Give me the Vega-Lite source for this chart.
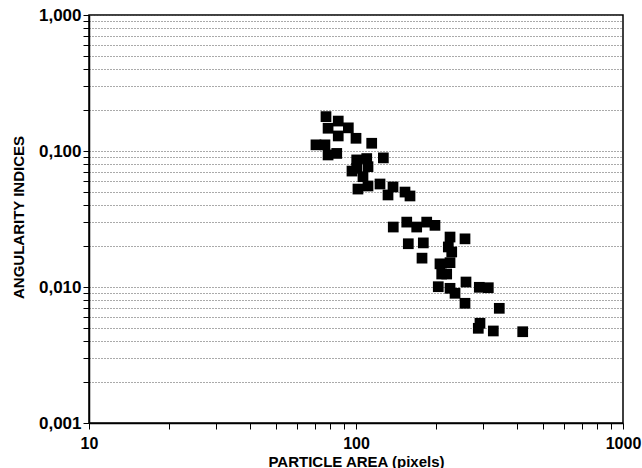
{
  "$schema": "https://vega.github.io/schema/vega-lite/v6.json",
  "width": 534,
  "height": 408,
  "autosize": "none",
  "padding": {"left": 89, "top": 15, "right": 19, "bottom": 45},
  "background": "white",
  "config": {
    "view": {"stroke": "black", "strokeWidth": 1.5},
    "font": "Liberation Sans"
  },
  "data": {
    "values": [
      {"area": 77.2, "angularity": 0.179},
      {"area": 85.8, "angularity": 0.166},
      {"area": 78.6, "angularity": 0.147},
      {"area": 93.6, "angularity": 0.148},
      {"area": 85.8, "angularity": 0.129},
      {"area": 100, "angularity": 0.124},
      {"area": 70.8, "angularity": 0.111},
      {"area": 76.5, "angularity": 0.111},
      {"area": 114.5, "angularity": 0.114},
      {"area": 84.7, "angularity": 0.096},
      {"area": 78.6, "angularity": 0.0935},
      {"area": 100.6, "angularity": 0.086},
      {"area": 109.7, "angularity": 0.088},
      {"area": 126.6, "angularity": 0.089},
      {"area": 100.6, "angularity": 0.0746},
      {"area": 110.9, "angularity": 0.0767},
      {"area": 96.6, "angularity": 0.0712},
      {"area": 106.2, "angularity": 0.0647},
      {"area": 101.7, "angularity": 0.0525},
      {"area": 110.9, "angularity": 0.0553},
      {"area": 123.0, "angularity": 0.0572},
      {"area": 137.6, "angularity": 0.0544},
      {"area": 152.6, "angularity": 0.0499},
      {"area": 159.3, "angularity": 0.0467},
      {"area": 131.8, "angularity": 0.0475},
      {"area": 137.9, "angularity": 0.0276},
      {"area": 154.9, "angularity": 0.0300},
      {"area": 168.8, "angularity": 0.0276},
      {"area": 184.0, "angularity": 0.0300},
      {"area": 197.6, "angularity": 0.0284},
      {"area": 225.0, "angularity": 0.0233},
      {"area": 157.0, "angularity": 0.0208},
      {"area": 178.7, "angularity": 0.0211},
      {"area": 221.7, "angularity": 0.0197},
      {"area": 228.3, "angularity": 0.0181},
      {"area": 256.0, "angularity": 0.0226},
      {"area": 176.7, "angularity": 0.0163},
      {"area": 206.3, "angularity": 0.0148},
      {"area": 225.0, "angularity": 0.0151},
      {"area": 209.4, "angularity": 0.01246},
      {"area": 218.6, "angularity": 0.01246},
      {"area": 258.2, "angularity": 0.01088},
      {"area": 203.3, "angularity": 0.01005},
      {"area": 225.0, "angularity": 0.00978},
      {"area": 234.9, "angularity": 0.00899},
      {"area": 289.6, "angularity": 0.00995},
      {"area": 313.0, "angularity": 0.00988},
      {"area": 256.0, "angularity": 0.00759},
      {"area": 344.1, "angularity": 0.00697},
      {"area": 291.3, "angularity": 0.00541},
      {"area": 287.1, "angularity": 0.00497},
      {"area": 326.8, "angularity": 0.00475},
      {"area": 421.1, "angularity": 0.00469}
    ]
  },
  "mark": {"type": "point", "shape": "square", "filled": true, "size": 115, "color": "black", "opacity": 1},
  "encoding": {
    "x": {
      "field": "area",
      "type": "quantitative",
      "scale": {"type": "log", "domain": [10, 1000], "nice": false},
      "axis": {
        "title": "PARTICLE AREA (pixels)",
        "titleFont": "Liberation Sans",
        "titleFontSize": 15,
        "titleFontWeight": "bold",
        "titleColor": "black",
        "titleX": 267,
        "titleY": 43,
        "titleBaseline": "alphabetic",
        "titleAlign": "center",
        "values": [10, 20, 30, 40, 50, 60, 70, 80, 90, 100, 200, 300, 400, 500, 600, 700, 800, 900, 1000],
        "labelExpr": "abs(log(datum.value)/LN10 - round(log(datum.value)/LN10)) < 0.000001 ? format(datum.value, 'd') : ''",
        "labelFont": "Liberation Sans",
        "labelFontSize": 16,
        "labelFontWeight": "bold",
        "labelColor": "black",
        "labelPadding": 6,
        "labelFlush": false,
        "labelOverlap": false,
        "tickSize": 6,
        "tickColor": "black",
        "tickWidth": 1,
        "domainColor": "black",
        "domainWidth": 1.5,
        "grid": false
      }
    },
    "y": {
      "field": "angularity",
      "type": "quantitative",
      "scale": {"type": "log", "domain": [0.001, 1], "nice": false},
      "axis": {
        "title": "ANGULARITY INDICES",
        "titleFont": "Liberation Sans",
        "titleFontSize": 15,
        "titleFontWeight": "bold",
        "titleColor": "black",
        "titleX": -71,
        "titleY": 202,
        "titleAngle": -90,
        "titleAlign": "center",
        "titleBaseline": "middle",
        "values": [0.001, 0.002, 0.003, 0.004, 0.005, 0.006, 0.007, 0.008, 0.009, 0.01, 0.02, 0.03, 0.04, 0.05, 0.06, 0.07, 0.08, 0.09, 0.1, 0.2, 0.3, 0.4, 0.5, 0.6, 0.7, 0.8, 0.9, 1],
        "labelExpr": "abs(log(datum.value)/LN10 - round(log(datum.value)/LN10)) < 0.000001 ? replace(format(datum.value, '.3f'), '.', ',') : ''",
        "labelFont": "Liberation Sans",
        "labelFontSize": 17,
        "labelFontWeight": "bold",
        "labelColor": "black",
        "labelPadding": 2,
        "labelFlush": false,
        "labelOverlap": false,
        "tickSize": 6,
        "tickColor": "black",
        "tickWidth": 1,
        "domainColor": "black",
        "domainWidth": 1.5,
        "grid": true,
        "gridColor": "#555555",
        "gridDash": [1, 2],
        "gridWidth": 1,
        "gridOpacity": 1
      }
    }
  }
}
